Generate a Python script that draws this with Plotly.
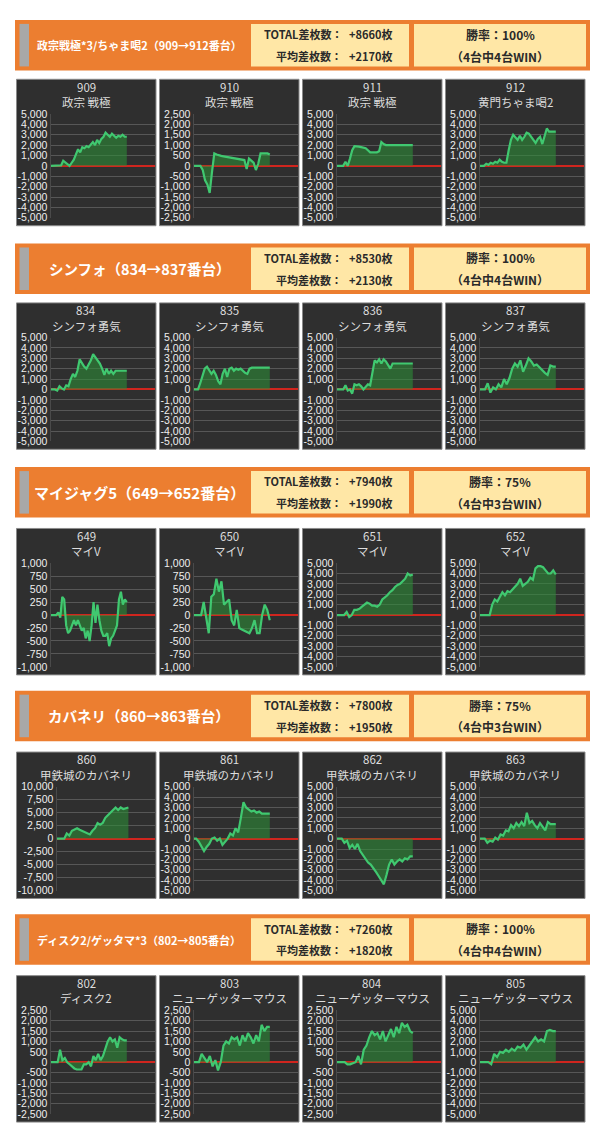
import plotly.graph_objects as go

# page has an 8px body margin; the figure is sized so that page == 600x1142
PAGE_W, PAGE_H = 600, 1142
MARGIN = 8
W, H = PAGE_W - 2 * MARGIN, PAGE_H - 2 * MARGIN

# ---------------- data ----------------
section_titles = ["政宗戦極*3/ちゃま喝2（909→912番台）", "シンフォ（834→837番台）",
                  "マイジャグ5（649→652番台）", "カバネリ（860→863番台）",
                  "ディスク2/ゲッタマ*3（802→805番台）"]
total_diff = ["+8660枚", "+8530枚", "+7940枚", "+7800枚", "+7260枚"]
avg_diff = ["+2170枚", "+2130枚", "+1990枚", "+1950枚", "+1820枚"]
win_rate = ["100%", "100%", "75%", "75%", "100%"]
win_count = ["4台中4台WIN", "4台中4台WIN", "4台中3台WIN", "4台中3台WIN", "4台中4台WIN"]

machine_nos = [[909, 910, 911, 912], [834, 835, 836, 837], [649, 650, 651, 652],
               [860, 861, 862, 863], [802, 803, 804, 805]]
machine_names = [["政宗 戦極", "政宗 戦極", "政宗 戦極", "黄門ちゃま喝2"],
                 ["シンフォ勇気"] * 4,
                 ["マイV"] * 4,
                 ["甲鉄城のカバネリ"] * 4,
                 ["ディスク2", "ニューゲッターマウス", "ニューゲッターマウス", "ニューゲッターマウス"]]
y_limits = [[5000, 2500, 5000, 5000], [5000, 5000, 5000, 5000], [1000, 1000, 5000, 5000],
            [10000, 5000, 5000, 5000], [2500, 2500, 2500, 5000]]
y_steps = [[1000, 500, 1000, 1000], [1000, 1000, 1000, 1000], [250, 250, 1000, 1000],
           [2500, 1000, 1000, 1000], [500, 500, 500, 1000]]

s909 = [0, 0, 0, 0, 0, 50, 500, 300, 100, 0, 300, 600, 1100, 1600, 1300, 1800, 1700, 1900, 1800, 2100,
        2300, 2000, 2500, 2200, 2600, 2800, 3200, 3000, 2800, 3100, 2900, 2700, 2900, 2800, 3000, 2800, 2800]
s910 = [0, 0, 0, 0, -200, -700, -900, -1300, -300, 600, 550, 500, 480, 460, 440, 420, 400, 380, 360, 340,
        320, 300, 280, -150, 350, 250, 150, -200, 100, 600, 600, 580, 600, 550]
s911 = [0, 0, 0, 0, 400, 0, 700, 1500, 1900, 1900, 1850, 1800, 1750, 1700, 1500, 1300, 1300, 1300, 1300, 1400,
        2300, 2100, 2000, 2000, 2000, 2000, 2000, 2000, 2000, 2000, 2000, 2000, 2000, 2000, 2000]
s912 = [0, 0, 0, 200, 100, 300, 200, 400, 300, 600, 400, 300, 300, 1500, 2500, 3000, 2700, 2500, 2900, 2500,
        2800, 3200, 3100, 2800, 2500, 2200, 2600, 2800, 2100, 2900, 3600, 3300, 3300, 3300, 3300]
s834 = [0, 0, 0, -100, 300, 100, 0, 400, 300, 1000, 1500, 1200, 1800, 2900, 2500, 2200, 2000, 2400, 2800, 3400,
        3100, 2800, 2500, 2000, 1400, 2000, 1500, 1800, 1500, 1800, 1800, 1800, 1800, 1800, 1800]
s835 = [0, 0, 0, 600, 1400, 2000, 2200, 1900, 1500, 1800, 1400, 800, 500, 1500, 2000, 1200, 2000, 2100, 1800, 2000,
        1900, 2000, 1800, 1600, 1500, 2000, 2100, 2100, 2100, 2100, 2100, 2100, 2100, 2100, 2100]
s836 = [0, 0, 0, 0, 400, -100, 0, -400, 500, 400, 500, 300, 0, 300, 500, 400, 1500, 2800, 2600, 2900,
        2500, 2900, 2700, 2400, 2000, 2500, 2500, 2500, 2500, 2500, 2500, 2500, 2500, 2500, 2500]
s837 = [0, 0, 0, 600, -300, 200, 0, 500, 200, 1000, 500, 1100, 2000, 2500, 2200, 2800, 1700, 2300, 3000, 2700,
        2300, 2400, 2100, 1800, 1600, 1400, 2300, 2200, 2200]
s649 = [0, 0, 0, 0, 50, -50, 350, 300, -200, -350, -300, -200, -100, -200, -100, -200, -300, -250, -450, -300,
        -500, -200, 250, -150, 200, -100, -300, -400, -400, -350, -600, -450, -400, -300, -200, 300, 450, 200, 300, 250]
s650 = [0, 0, 0, 0, 250, -100, -350, 350, 400, 700, 450, 650, 200, 250, 300, -100, -200, 100, -250, -280,
        -300, -320, -350, -250, -100, -350, -350, 0, 200, 100, -100]
s651 = [0, 0, 0, 0, 300, -200, 0, 500, 500, 600, 800, 1000, 1200, 1100, 900, 900, 800, 1000, 1500, 1700,
        1900, 2200, 2400, 2700, 2900, 3000, 3300, 3500, 4000, 3800, 3900]
s652 = [0, 0, 0, 0, 0, 1000, 1500, 1300, 1800, 2200, 1900, 2300, 2200, 2500, 2800, 3000, 3500, 2800, 3000, 3200,
        3600, 3400, 4500, 4700, 4700, 4600, 4300, 4000, 4000, 4300, 3900]
s860 = [0, 0, 0, 0, 1000, 600, 1500, 1800, 2000, 1700, 1500, 1200, 1000, 800, 1500, 2000, 3000, 2700, 3000, 4000,
        4500, 5000, 5500, 6000, 5500, 6000, 5700, 5900, 6000]
s861 = [0, 0, -300, -800, -1200, -800, -500, 0, 100, -200, 0, -600, -300, 0, 500, 300, 1000, 600, 2000, 3500,
        3000, 2800, 2600, 2700, 2500, 2600, 2400, 2400, 2400, 2400]
s862 = [0, 0, 0, -400, -200, -900, -600, -1000, -500, -1200, -1600, -2000, -2300, -2500, -2800, -3200, -3600, -4000,
        -4400, -3500, -2500, -2000, -2500, -2200, -2000, -2200, -1900, -2000, -1700, -1700]
s863 = [0, 0, 0, -400, -200, -300, 100, -100, 400, 300, 800, 700, 1300, 1000, 1500, 1200, 1600, 1200, 2500, 1500,
        1700, 1300, 1000, 1500, 1200, 800, 1600, 1400, 1400, 1400]
s802 = [0, 0, 0, 0, 600, 100, 200, 0, -100, -200, -300, -350, -350, -350, -100, -100, 0, -200, 300, 100,
        400, 100, 300, 700, 1000, 1200, 1000, 1100, 700, 1200, 1100, 1050, 1050]
s803 = [0, 0, 0, 400, 200, 0, 300, -200, 100, -400, 0, 800, 1000, 900, 1200, 1100, 1200, 800, 1300, 1000,
        1400, 1200, 900, 1300, 1000, 1800, 1500, 1700, 1700]
s804 = [0, 0, 0, 0, -100, -100, -50, 0, 300, -100, 600, 800, 1200, 1500, 1300, 1400, 1100, 1500, 1000, 1300,
        1600, 1200, 1700, 1400, 1900, 1700, 1800, 1500, 1400]
s805 = [0, 0, 0, 0, -200, 800, 500, 1000, 900, 1200, 1000, 1300, 1100, 1500, 1400, 1700, 1200, 1600, 1900, 2400,
        2000, 2200, 2000, 3000, 3100, 3000, 3000]

series = [[s909, s910, s911, s912], [s834, s835, s836, s837], [s649, s650, s651, s652],
          [s860, s861, s862, s863], [s802, s803, s804, s805]]

# ---------------- layout geometry / styles (page pixels) ----------------
HEADER_TOPS = [14, 240, 466, 692, 918]
HEADER_H = 51
PANEL_TOPS = [74, 300, 528, 754, 980]
PANEL_H = 148
PANEL_W = 139.5
PANEL_LEFTS = [16.5 + i * 143 for i in range(4)]
TITLE_SIZES = [11, 14.5, 15, 14.5, 11]
DATA_FRAC = 0.73

ORANGE = "#EC7E30"
PALE = "#FFE7A6"
GRAY_BAR = "#A8A8A8"
PANEL_BG = "#2F2F2F"
GRID = "#575757"
LINE_GREEN = "#40C870"
FILL_GREEN = "rgba(45,140,55,0.6)"
ZERO_RED = "#D0251E"
JP = "Noto Sans CJK JP"


def px(x):
    return (x - MARGIN) / W


def py(y):
    return 1 - (y - MARGIN) / H


fig = go.Figure()
shapes, annotations = [], []

for s in range(5):
    top = HEADER_TOPS[s]
    bot = top + HEADER_H
    shapes.append(dict(type="rect", xref="paper", yref="paper", x0=px(15), x1=px(590),
                       y0=py(bot), y1=py(top), fillcolor=ORANGE, line=dict(width=0), layer="below"))
    shapes.append(dict(type="rect", xref="paper", yref="paper", x0=px(19.5), x1=px(29),
                       y0=py(bot - 4), y1=py(top + 4), fillcolor=GRAY_BAR, line=dict(width=0), layer="below"))
    for bx0, bx1 in [(251, 409), (414, 586)]:
        shapes.append(dict(type="rect", xref="paper", yref="paper", x0=px(bx0), x1=px(bx1),
                           y0=py(bot - 4), y1=py(top + 4), fillcolor=PALE, line=dict(width=0), layer="below"))
    annotations.append(dict(xref="paper", yref="paper", x=px(139), y=py(top + 25.5), text=section_titles[s],
                            showarrow=False, xanchor="center", yanchor="middle",
                            font=dict(family=JP, size=TITLE_SIZES[s], color="white", weight="bold")))
    for label, val, yy in [("TOTAL差枚数：", total_diff[s], top + 14.5), ("平均差枚数：", avg_diff[s], top + 36.5)]:
        annotations.append(dict(xref="paper", yref="paper", x=px(344), y=py(yy), text=label,
                                showarrow=False, xanchor="right", yanchor="middle",
                                font=dict(family=JP, size=11, color="#2a2a2a", weight="bold")))
        annotations.append(dict(xref="paper", yref="paper", x=px(347), y=py(yy), text=val,
                                showarrow=False, xanchor="left", yanchor="middle",
                                font=dict(family=JP, size=11, color="#2a2a2a", weight="bold")))
    annotations.append(dict(xref="paper", yref="paper", x=px(500), y=py(top + 14.5), text="勝率：" + win_rate[s],
                            showarrow=False, xanchor="center", yanchor="middle",
                            font=dict(family=JP, size=12, color="#2a2a2a", weight="bold")))
    annotations.append(dict(xref="paper", yref="paper", x=px(500), y=py(top + 36.5), text="（" + win_count[s] + "）",
                            showarrow=False, xanchor="center", yanchor="middle",
                            font=dict(family=JP, size=12, color="#2a2a2a", weight="bold")))

    for c in range(4):
        k = s * 4 + c + 1
        ptop = PANEL_TOPS[s]
        pleft = PANEL_LEFTS[c]
        pright = pleft + PANEL_W
        shapes.append(dict(type="rect", xref="paper", yref="paper", x0=px(pleft), x1=px(pright),
                           y0=py(ptop + PANEL_H), y1=py(ptop), fillcolor=PANEL_BG,
                           line=dict(width=1, color="#8a8a8a"), layer="below"))
        annotations.append(dict(xref="paper", yref="paper", x=px((pleft + pright) / 2), y=py(ptop + 7.5),
                                text=str(machine_nos[s][c]), showarrow=False, xanchor="center", yanchor="middle",
                                font=dict(family=JP, size=11.5, color="#dddddd"), borderpad=0))
        annotations.append(dict(xref="paper", yref="paper", x=px((pleft + pright) / 2), y=py(ptop + 23),
                                text=machine_names[s][c], showarrow=False, xanchor="center", yanchor="middle",
                                font=dict(family=JP, size=11.5, color="#dddddd"), borderpad=0))

        lim = y_limits[s][c]
        step = y_steps[s][c]
        tickvals = list(range(-lim, lim + 1, step))
        ticktext = [f"{v:,}" for v in tickvals]
        offset = 40 if lim >= 10000 else 34
        ys = series[s][c]
        xs = list(range(len(ys)))
        xname = "x" if k == 1 else f"x{k}"
        yname = "y" if k == 1 else f"y{k}"
        fig.add_trace(go.Scatter(x=xs, y=ys, mode="lines", fill="tozeroy", fillcolor=FILL_GREEN,
                                 line=dict(color=LINE_GREEN, width=2.2), xaxis=xname, yaxis=yname,
                                 showlegend=False, hoverinfo="skip"))
        xkey = "xaxis" if k == 1 else f"xaxis{k}"
        ykey = "yaxis" if k == 1 else f"yaxis{k}"
        fig.layout[xkey] = dict(domain=[px(pleft + offset), px(pright - 1)],
                                range=[0, (len(ys) - 1) / DATA_FRAC], anchor=yname,
                                showgrid=False, zeroline=False, showticklabels=False, ticks="",
                                showline=False, fixedrange=True)
        fig.layout[ykey] = dict(domain=[py(ptop + 140), py(ptop + 35)], range=[-lim, lim],
                                anchor=xname, tickmode="array", tickvals=tickvals, ticktext=ticktext,
                                showgrid=True, gridcolor=GRID, gridwidth=1,
                                zeroline=True, zerolinecolor=ZERO_RED, zerolinewidth=2,
                                showline=True, linecolor="#4a4a4a", linewidth=1, ticks="",
                                tickfont=dict(family="Liberation Sans, Arial", size=10.5, color="#eeeeee"),
                                fixedrange=True)

fig.update_layout(width=W, height=H, margin=dict(l=0, r=0, t=0, b=0),
                  paper_bgcolor="white", plot_bgcolor="rgba(0,0,0,0)",
                  shapes=shapes, annotations=annotations, showlegend=False)

fig.write_html("out.html")
